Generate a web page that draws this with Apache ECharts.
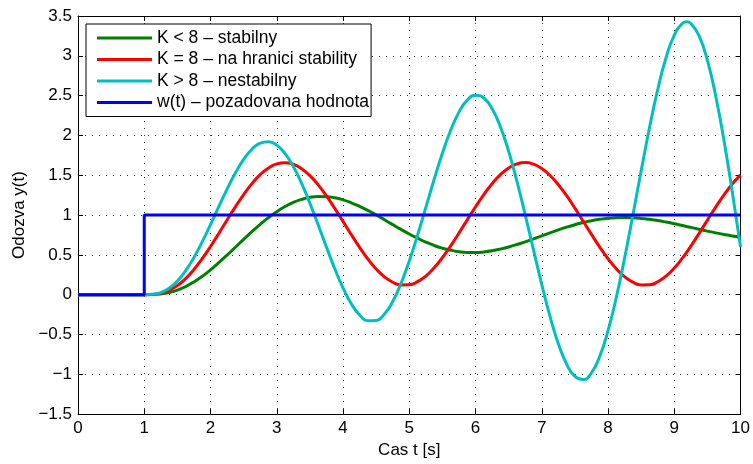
<!DOCTYPE html>
<html>
<head>
<meta charset="utf-8">
<script src="https://cdn.jsdelivr.net/npm/echarts@6/dist/echarts.min.js"></script>
<style>
  html, body { margin: 0; padding: 0; background: #fff; }
  #chart { width: 753px; height: 464px; }
</style>
</head>
<body>
<div id="chart"></div>
<script>
// cas t [s]
const casT = [0, 1, 1.125, 1.25, 1.375, 1.5, 1.625, 1.75, 1.875, 2, 2.125, 2.25, 2.375, 2.5, 2.625, 2.75, 2.875,
  3, 3.125, 3.25, 3.375, 3.5, 3.625, 3.75, 3.875, 4, 4.125, 4.25, 4.375, 4.5, 4.625, 4.75, 4.875,
  5, 5.125, 5.25, 5.375, 5.5, 5.625, 5.75, 5.875, 6, 6.125, 6.25, 6.375, 6.5, 6.625, 6.75, 6.875,
  7, 7.125, 7.25, 7.375, 7.5, 7.625, 7.75, 7.875, 8, 8.125, 8.25, 8.375, 8.5, 8.625, 8.75, 8.875,
  9, 9.125, 9.1875, 9.25, 9.375, 9.5, 9.625, 9.75, 9.875, 10]

// K < 8 - stabilny
const stabilny = [0, 0, 0.001, 0.009, 0.027, 0.057, 0.102, 0.160, 0.230,
  0.312, 0.402, 0.497, 0.596, 0.695, 0.792, 0.884, 0.968,
  1.043, 1.107, 1.159, 1.197, 1.222, 1.233, 1.231, 1.217,
  1.191, 1.154, 1.109, 1.058, 1.001, 0.941, 0.880, 0.820,
  0.762, 0.709, 0.660, 0.618, 0.584, 0.558, 0.540, 0.531,
  0.530, 0.537, 0.551, 0.572, 0.599, 0.630, 0.664, 0.701,
  0.739, 0.777, 0.814, 0.848, 0.879, 0.907, 0.929, 0.947,
  0.960, 0.967, 0.969, 0.966, 0.958, 0.946, 0.931, 0.912,
  0.891, 0.868, 0.856, 0.845, 0.821, 0.798, 0.776, 0.756, 0.738, 0.723]

// K = 8 - na hranici stability
const naHranici = [0, 0, 0.002, 0.017, 0.053, 0.114, 0.202, 0.316, 0.452,
  0.605, 0.769, 0.938, 1.103, 1.258, 1.395, 1.508, 1.592,
  1.643, 1.658, 1.638, 1.582, 1.495, 1.379, 1.240, 1.084,
  0.920, 0.754, 0.594, 0.448, 0.323, 0.224, 0.156, 0.123,
  0.125, 0.163, 0.234, 0.337, 0.465, 0.613, 0.774, 0.940,
  1.104, 1.257, 1.394, 1.507, 1.591, 1.643, 1.659, 1.639,
  1.584, 1.497, 1.381, 1.243, 1.087, 0.923, 0.757, 0.597,
  0.451, 0.325, 0.226, 0.157, 0.123, 0.124, 0.162, 0.233,
  0.334, 0.462, 0.534, 0.610, 0.770, 0.936, 1.100, 1.254, 1.391, 1.505]

// K > 8 - nestabilny
const nestabilny = [0, 0, 0.004, 0.026, 0.080, 0.171, 0.301, 0.468, 0.664,
  0.880, 1.105, 1.325, 1.527, 1.699, 1.827, 1.904, 1.922,
  1.878, 1.772, 1.610, 1.398, 1.149, 0.877, 0.597, 0.327,
  0.085, -0.114, -0.254, -0.327, -0.324, -0.243, -0.086, 0.140,
  0.423, 0.748, 1.096, 1.446, 1.776, 2.065, 2.293, 2.444,
  2.505, 2.470, 2.336, 2.110, 1.800, 1.424, 1.004, 0.563,
  0.127, -0.275, -0.615, -0.873, -1.027, -1.066, -0.981, -0.774,
  -0.453, -0.035, 0.459, 1.000, 1.556, 2.094, 2.577, 2.975,
  3.260, 3.408, 3.427, 3.407, 3.250, 2.942, 2.496, 1.936, 1.291, 0.600]

// w(t) - pozadovana hodnota (skok v t = 1 s)
const wT = [0, 1, 10]
const pozadovana = [0, 1, 1]

const legendNames = [
  'K < 8 – stabilny',
  'K = 8 – na hranici stability',
  'K > 8 – nestabilny',
  'w(t) – pozadovana hodnota',
]
const colors = ['#008000', '#ff0000', '#00bfbf', '#0000ff']

const pairs = (xs, ys) => xs.map((x, i) => [x, ys[i]])
const font = 'Liberation Sans, Arial, Helvetica, sans-serif'

const chart = echarts.init(document.getElementById('chart'), null, { renderer: 'canvas' })

const baseAxis = {
  type: 'value',
  axisLine: { show: true, onZero: false, lineStyle: { color: '#000', width: 1 } },
  axisTick: { show: true, inside: true, length: 5, lineStyle: { color: '#000' } },
}
const gridDots = { show: true, lineStyle: { color: '#333', width: 1, type: [1, 6] } }

const curve = (i, data) => ({
  name: legendNames[i], type: 'line', data,
  smooth: 0.5, symbol: 'none',
  lineStyle: { color: colors[i], width: 3 },
  itemStyle: { color: colors[i] },
})

chart.setOption({
  animation: false,
  textStyle: { fontFamily: font },
  grid: { left: 78, right: 11, top: 16, bottom: 47, containLabel: false },
  legend: {
    orient: 'vertical', left: 86, top: 24,
    padding: [4, 2, 4, 11], itemGap: 1.5,
    itemWidth: 55, itemHeight: 3, icon: 'rect',
    backgroundColor: '#fff', borderColor: '#000', borderWidth: 1,
    selectedMode: false,
    textStyle: { color: '#000', fontSize: 17.5, lineHeight: 20, fontFamily: font },
    data: legendNames,
  },
  xAxis: [
    {
      ...baseAxis, min: 0, max: 10, interval: 1, position: 'bottom',
      name: 'Cas t [s]', nameLocation: 'middle', nameGap: 26,
      nameTextStyle: { color: '#000', fontSize: 17 },
      axisLabel: { color: '#000', fontSize: 17, margin: 6 },
      splitLine: gridDots,
    },
    {
      ...baseAxis, min: 0, max: 10, interval: 1, position: 'top',
      axisLabel: { show: false }, splitLine: { show: false },
    },
  ],
  yAxis: [
    {
      ...baseAxis, min: -1.5, max: 3.5, interval: 0.5, position: 'left',
      name: 'Odozva y(t)', nameLocation: 'middle', nameGap: 48,
      nameTextStyle: { color: '#000', fontSize: 17 },
      axisLabel: { color: '#000', fontSize: 17, margin: 6, formatter: v => String(v).replace('-', '−') },
      splitLine: gridDots,
    },
    {
      ...baseAxis, min: -1.5, max: 3.5, interval: 0.5, position: 'right',
      axisLabel: { show: false }, splitLine: { show: false },
    },
  ],
  series: [
    curve(0, pairs(casT, stabilny)),
    curve(1, pairs(casT, naHranici)),
    curve(2, pairs(casT, nestabilny)),
    { ...curve(3, pairs(wT, pozadovana)), smooth: false, step: 'end' },
  ],
})
</script>
</body>
</html>
